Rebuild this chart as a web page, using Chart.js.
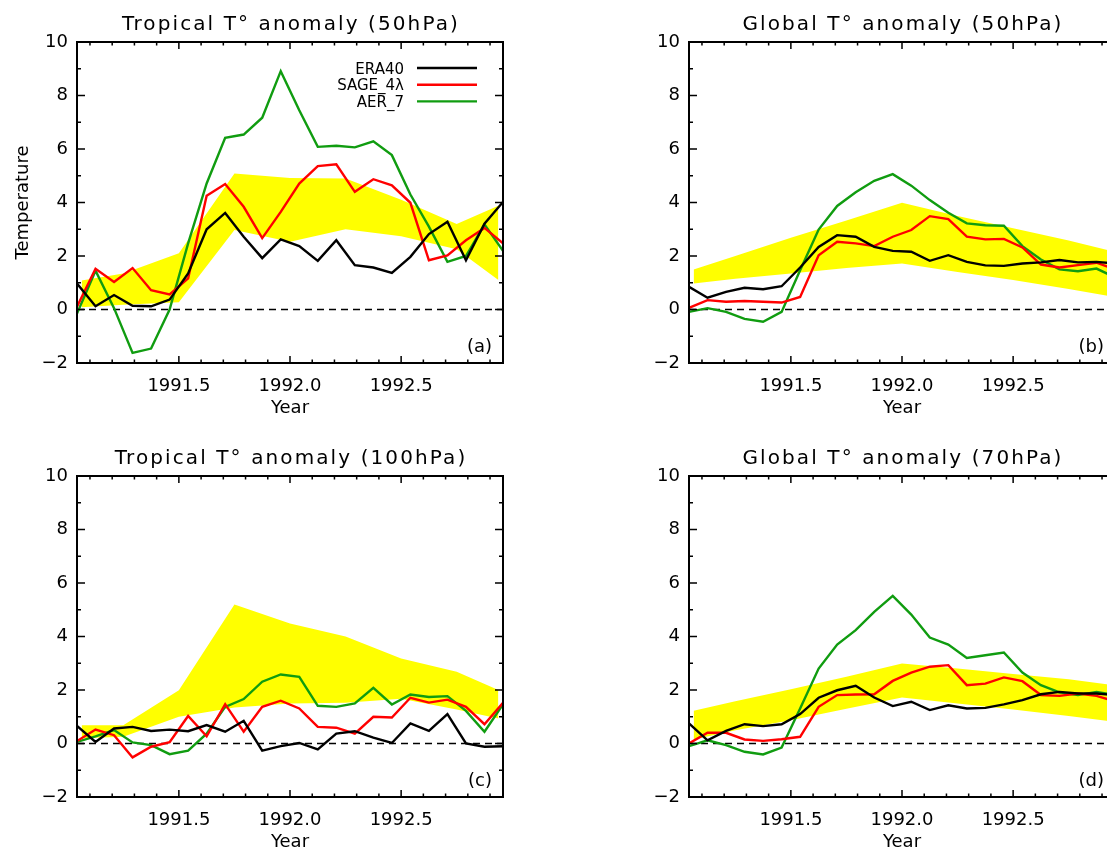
<!DOCTYPE html>
<html lang="en">
<head>
<meta charset="UTF-8">
<title>Temperature anomalies 1991-1992</title>
<script src="https://cdn.jsdelivr.net/npm/chart.js"></script>
<style>
  html, body { margin: 0; padding: 0; background: #fff; overflow: hidden; }
  body { width: 1107px; height: 849px; position: relative; }
  canvas { position: absolute; }
</style>
</head>
<body>
<canvas id="panelA" width="550" height="430" style="left:0;top:0"></canvas>
<canvas id="panelB" width="550" height="430" style="left:612px;top:0"></canvas>
<canvas id="panelC" width="550" height="430" style="left:0;top:434px"></canvas>
<canvas id="panelD" width="550" height="430" style="left:612px;top:434px"></canvas>
<script>
// monthly means, mid-month positions
const months = Array.from({length: 24}, (_, i) => 1991 + (i + 0.5) / 12);
const bandYears = [1991.0625, 1991.25, 1991.5, 1991.75, 1992.0, 1992.25, 1992.5, 1992.75, 1992.9375];
const yearTicks = [1991.5, 1992.0, 1992.5];

// (a) tropics, 50 hPa
const era40Trop50 = [0.97, 0.12, 0.54, 0.14, 0.12, 0.37, 1.35, 3.0, 3.61, 2.72, 1.92, 2.62, 2.37, 1.82, 2.59, 1.66, 1.57, 1.37, 1.97, 2.82, 3.28, 1.84, 3.21, 4.02];
const sageTrop50 = [0.1, 1.52, 1.03, 1.55, 0.72, 0.56, 1.16, 4.25, 4.69, 3.84, 2.67, 3.65, 4.71, 5.36, 5.43, 4.40, 4.87, 4.64, 3.99, 1.84, 2.02, 2.59, 3.05, 2.47];
const aerTrop50 = [-0.15, 1.45, 0.05, -1.62, -1.46, 0.0, 2.47, 4.71, 6.42, 6.54, 7.17, 8.91, 7.45, 6.08, 6.12, 6.06, 6.29, 5.77, 4.3, 3.1, 1.78, 2.0, 3.18, 2.19];
const bandHiTrop50 = [1.08, 1.35, 2.1, 5.08, 4.92, 4.9, 4.1, 3.2, 3.88];
const bandLoTrop50 = [0.08, 0.18, 0.27, 2.97, 2.53, 3.0, 2.74, 2.25, 1.1];

// (b) global, 50 hPa
const era40Glob50 = [0.85, 0.44, 0.66, 0.81, 0.76, 0.87, 1.57, 2.34, 2.78, 2.72, 2.34, 2.19, 2.16, 1.82, 2.03, 1.78, 1.65, 1.63, 1.72, 1.76, 1.85, 1.76, 1.78, 1.72];
const sageGlob50 = [0.06, 0.35, 0.29, 0.32, 0.29, 0.26, 0.47, 2.03, 2.53, 2.47, 2.37, 2.72, 2.97, 3.49, 3.38, 2.72, 2.62, 2.64, 2.32, 1.68, 1.57, 1.66, 1.75, 1.5];
const aerGlob50 = [-0.09, 0.05, -0.09, -0.35, -0.46, -0.09, 1.47, 2.99, 3.87, 4.38, 4.81, 5.06, 4.63, 4.09, 3.62, 3.22, 3.15, 3.13, 2.37, 1.87, 1.5, 1.43, 1.53, 1.2];
const bandHiGlob50 = [1.5, 2.0, 2.68, 3.33, 3.99, 3.5, 3.04, 2.58, 2.2];
const bandLoGlob50 = [0.97, 1.15, 1.35, 1.55, 1.72, 1.4, 1.1, 0.77, 0.5];

// (c) tropics, 100 hPa
const era40Trop100 = [0.66, 0.06, 0.56, 0.62, 0.47, 0.52, 0.46, 0.69, 0.44, 0.85, -0.27, -0.1, 0.02, -0.22, 0.37, 0.46, 0.22, 0.02, 0.75, 0.47, 1.1, 0.0, -0.12, -0.1];
const sageTrop100 = [0.09, 0.52, 0.31, -0.52, -0.12, 0.05, 1.03, 0.27, 1.47, 0.44, 1.37, 1.6, 1.31, 0.62, 0.59, 0.37, 1.0, 0.97, 1.71, 1.53, 1.64, 1.37, 0.72, 1.52];
const aerTrop100 = [0.06, 0.27, 0.5, 0.04, -0.06, -0.4, -0.27, 0.37, 1.37, 1.66, 2.31, 2.58, 2.49, 1.41, 1.37, 1.5, 2.08, 1.46, 1.83, 1.74, 1.77, 1.22, 0.44, 1.46];
const bandHiTrop100 = [0.68, 0.68, 1.99, 5.2, 4.49, 4.0, 3.18, 2.68, 2.0];
const bandLoTrop100 = [0.2, 0.25, 1.0, 1.35, 1.5, 1.52, 1.67, 1.27, 0.93];

// (d) global, 70 hPa
const era40Glob70 = [0.75, 0.12, 0.47, 0.72, 0.65, 0.72, 1.1, 1.71, 1.99, 2.16, 1.72, 1.40, 1.56, 1.25, 1.43, 1.31, 1.33, 1.46, 1.62, 1.84, 1.93, 1.87, 1.87, 1.81];
const sageGlob70 = [0.0, 0.4, 0.4, 0.15, 0.1, 0.16, 0.25, 1.37, 1.81, 1.83, 1.84, 2.34, 2.65, 2.87, 2.93, 2.18, 2.24, 2.47, 2.33, 1.81, 1.78, 1.87, 1.78, 1.58];
const aerGlob70 = [-0.1, 0.12, -0.06, -0.31, -0.41, -0.15, 1.31, 2.8, 3.7, 4.24, 4.92, 5.52, 4.82, 3.96, 3.7, 3.2, 3.3, 3.4, 2.65, 2.18, 1.91, 1.81, 1.93, 1.81];
const bandHiGlob70 = [1.22, 1.58, 2.03, 2.5, 2.99, 2.8, 2.6, 2.4, 2.2];
const bandLoGlob70 = [0.15, 0.5, 0.87, 1.3, 1.72, 1.5, 1.27, 1.03, 0.83];

const FONT = "'DejaVu Sans', sans-serif";
Chart.defaults.font.family = FONT;
Chart.defaults.color = '#000';

// box, inward ticks on all four sides, title, panel letter and legend
const framePlugin = {
  id: 'frame',
  afterDatasetsDraw(chart, args, opts) {
    const {ctx, chartArea: a, scales: {x, y}} = chart;
    ctx.save();
    ctx.strokeStyle = '#000';
    ctx.lineWidth = 1.5;
    ctx.beginPath();
    for (let t = 19911; t <= 19929; t++) {
      const px = x.getPixelForValue(t / 10);
      const len = t % 5 === 0 ? 7 : 3.5;
      ctx.moveTo(px, a.bottom); ctx.lineTo(px, a.bottom - len);
      ctx.moveTo(px, a.top); ctx.lineTo(px, a.top + len);
    }
    for (let v = -1; v <= 9; v++) {
      const py = y.getPixelForValue(v);
      const len = v % 2 === 0 ? 8 : 4;
      ctx.moveTo(a.left, py); ctx.lineTo(a.left + len, py);
      ctx.moveTo(a.right, py); ctx.lineTo(a.right - len, py);
    }
    ctx.stroke();
    ctx.lineWidth = 2;
    ctx.strokeRect(a.left, a.top, a.right - a.left, a.bottom - a.top);

    ctx.fillStyle = '#000';
    ctx.textBaseline = 'alphabetic';
    ctx.font = '20px ' + FONT;
    ctx.textAlign = 'center';
    ctx.letterSpacing = '2.1px';
    ctx.fillText(opts.title, (a.left + a.right) / 2 + 1, a.top - 12);
    ctx.letterSpacing = '0px';

    ctx.font = '18px ' + FONT;
    ctx.textAlign = 'right';
    ctx.fillText(opts.letter, a.right - 11, a.bottom - 11);

    if (opts.legend) {
      ctx.font = '15px ' + FONT;
      chart.data.datasets.filter(d => d.inLegend).forEach((d, i) => {
        const ly = a.top + 26 + i * 16.7;
        ctx.fillText(d.label, a.right - 99, ly + 5.7);
        ctx.strokeStyle = d.borderColor;
        ctx.lineWidth = 2.4;
        ctx.beginPath();
        ctx.moveTo(a.right - 86, ly);
        ctx.lineTo(a.right - 26, ly);
        ctx.stroke();
      });
    }
    ctx.restore();
  }
};

function makePanel(id, title, letter, era, sage, aer, hi, lo, opts) {
  const pts = vals => vals.map((v, i) => ({x: months[i], y: v}));
  const band = vals => vals.map((v, i) => ({x: bandYears[i], y: v}));
  return new Chart(document.getElementById(id), {
    type: 'line',
    data: {
      datasets: [
        {label: 'ERA40', data: pts(era), borderColor: '#000000', order: 0, inLegend: true},
        {label: 'SAGE_4\u03bb', data: pts(sage), borderColor: '#ff0000', order: 0, inLegend: true},
        {label: 'AER_7', data: pts(aer), borderColor: '#109c10', order: 0, inLegend: true},
        {label: 'zero', data: [{x: months[0], y: 0}, {x: months[23], y: 0}],
         borderColor: '#000000', borderWidth: 1.3, borderDash: [7, 5], order: 1},
        {label: 'range', data: band(hi), borderColor: 'rgba(0,0,0,0)', borderWidth: 0,
         backgroundColor: '#ffff00', fill: '+1', order: 2},
        {label: 'range low', data: band(lo), borderColor: 'rgba(0,0,0,0)', borderWidth: 0,
         fill: false, order: 2}
      ]
    },
    options: {
      responsive: false,
      animation: false,
      events: [],
      layout: {padding: {top: 42, right: 47, left: 0, bottom: 0}},
      elements: {point: {radius: 0}, line: {tension: 0, borderWidth: 2.4}},
      plugins: {
        legend: {display: false},
        tooltip: {enabled: false},
        frame: {title: title, letter: letter, legend: !!opts.legend}
      },
      scales: {
        x: {
          type: 'linear',
          min: months[0],
          max: months[23],
          grid: {display: false, drawTicks: false},
          border: {display: false},
          afterBuildTicks: s => { s.ticks = yearTicks.map(v => ({value: v})); },
          afterFit: s => { s.height = 67; },
          ticks: {font: {size: 18}, color: '#000', padding: 13, maxRotation: 0, autoSkip: false,
                  callback: v => Number(v).toFixed(1)},
          title: {display: true, text: 'Year', font: {size: 18}, color: '#000', padding: {top: 0, bottom: 11}}
        },
        y: {
          min: -2,
          max: 10,
          grid: {display: false, drawTicks: false},
          border: {display: false},
          afterFit: s => { s.width = 77; },
          ticks: {stepSize: 2, font: {size: 18}, color: '#000', padding: 9,
                  callback: v => v < 0 ? '\u2212' + Math.abs(v) : String(v)},
          title: {display: !!opts.yTitle, text: 'Temperature', font: {size: 18}, color: '#000',
                  padding: {top: 13, bottom: 0}}
        }
      }
    },
    plugins: [framePlugin]
  });
}

makePanel('panelA', 'Tropical T\u00b0 anomaly (50hPa)', '(a)',
  era40Trop50, sageTrop50, aerTrop50, bandHiTrop50, bandLoTrop50, {legend: true, yTitle: true});
makePanel('panelB', 'Global T\u00b0 anomaly (50hPa)', '(b)',
  era40Glob50, sageGlob50, aerGlob50, bandHiGlob50, bandLoGlob50, {});
makePanel('panelC', 'Tropical T\u00b0 anomaly (100hPa)', '(c)',
  era40Trop100, sageTrop100, aerTrop100, bandHiTrop100, bandLoTrop100, {});
makePanel('panelD', 'Global T\u00b0 anomaly (70hPa)', '(d)',
  era40Glob70, sageGlob70, aerGlob70, bandHiGlob70, bandLoGlob70, {});
</script>
</body>
</html>
